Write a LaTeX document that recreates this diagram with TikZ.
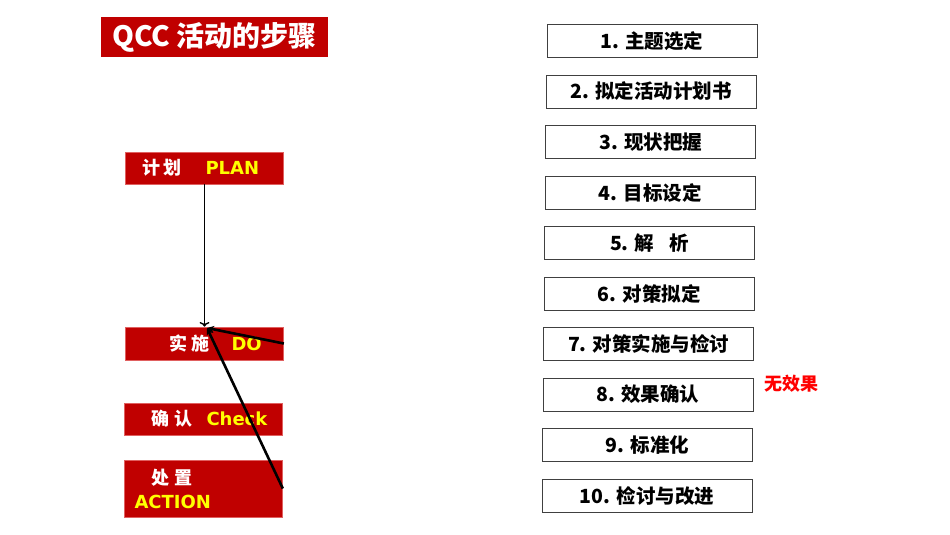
\documentclass[tikz,border=0pt]{standalone}
\usepackage{fontspec}
\setmainfont{Noto Sans CJK SC}
\newfontfamily\dejavu{DejaVu Sans}
\usepackage{xcolor}
\usepackage{tikz}
\usetikzlibrary{arrows, arrows.meta, positioning}
\definecolor{QccRed}{HTML}{C00000}
\definecolor{QccEdge}{HTML}{E06060}
\definecolor{QccYellow}{HTML}{FFFF00}
\definecolor{BoxLine}{HTML}{404040}
\newcommand{\pdcaword}[1]{\textcolor{QccYellow}{\dejavu\bfseries #1}}

\begin{document}
\begin{tikzpicture}[x=1pt, y=-1pt, node distance=50.5pt]
    \tikzstyle{stepbox} = [rectangle, minimum width=210pt, minimum height=33pt, inner sep=0pt, text centered, draw=BoxLine, line width=0.8pt, font=\bfseries\fontsize{19.5}{22}\selectfont, xshift=-0.55pt]
    \tikzstyle{phase} = [rectangle, minimum width=158pt, minimum height=32pt, inner sep=0pt, text width=158pt, align=left, draw=QccEdge, line width=0.6pt, fill=QccRed, text=white, font=\bfseries\fontsize{18}{22}\selectfont]
    \tikzstyle{arrow} = [line width=1.4pt, ->]
    \tikzstyle{back} = [line width=2.6pt, -{Stealth[length=7pt, width=7pt]}]

    \useasboundingbox (0,0) rectangle (950,535);

    % title
    \node (title) [rectangle, minimum width=227pt, minimum height=40pt, inner sep=0pt, fill=QccRed, text=white, font=\bfseries\fontsize{28}{32}\selectfont] at (214.5,37) {QCC 活动的步骤};

    % PDCA column
    \node (plan) [phase] at (204.5,168) {\hspace{17pt}计\hspace{3pt}划\hspace{24pt}\pdcaword{PLAN}};
    \node (do) [phase, below of=plan, yshift=-125pt, minimum height=33pt] {\hspace{44pt}实\hspace{4pt}施\hspace{22pt}\pdcaword{DO}};
    \node (check) [phase, below of=do, yshift=-25pt, xshift=-1pt] {\hspace{27pt}确\hspace{5pt}认\hspace{14pt}\pdcaword{Check}};
    \node (action) [phase, below of=check, yshift=-19pt, minimum height=57pt, font=\bfseries\fontsize{18}{24}\selectfont] {\hspace{27pt}处\hspace{5pt}置\\\hspace{10pt}\pdcaword{ACTION}};
    \coordinate (hub) at (207,328);

    % ten steps
    \node (s1) [stepbox] at (652.5,41) {1. 主题选定};
    \node (s2) [stepbox, below of=s1] {2. 拟定活动计划书};
    \node (s3) [stepbox, below of=s2] {3. 现状把握};
    \node (s4) [stepbox, below of=s3] {4. 目标设定};
    \node (s5) [stepbox, below of=s4] {5. 解\hspace{0.8em}析};
    \node (s6) [stepbox, below of=s5] {6. 对策拟定};
    \node (s7) [stepbox, below of=s6] {7. 对策实施与检讨};
    \node (s8) [stepbox, below of=s7] {8. 效果确认};
    \node (s9) [stepbox, below of=s8] {9. 标准化};
    \node (s10) [stepbox, below of=s9] {10. 检讨与改进};
    \node (noeffect) [text=red, font=\bfseries\fontsize{18}{20}\selectfont, right=7pt of s8, yshift=11pt] {无效果};

    \draw [arrow] (plan) -- (do.north);
    \draw [back] (do.east) -- (hub);
    \draw [back] (action.east) -- (hub);

\end{tikzpicture}
\end{document}
